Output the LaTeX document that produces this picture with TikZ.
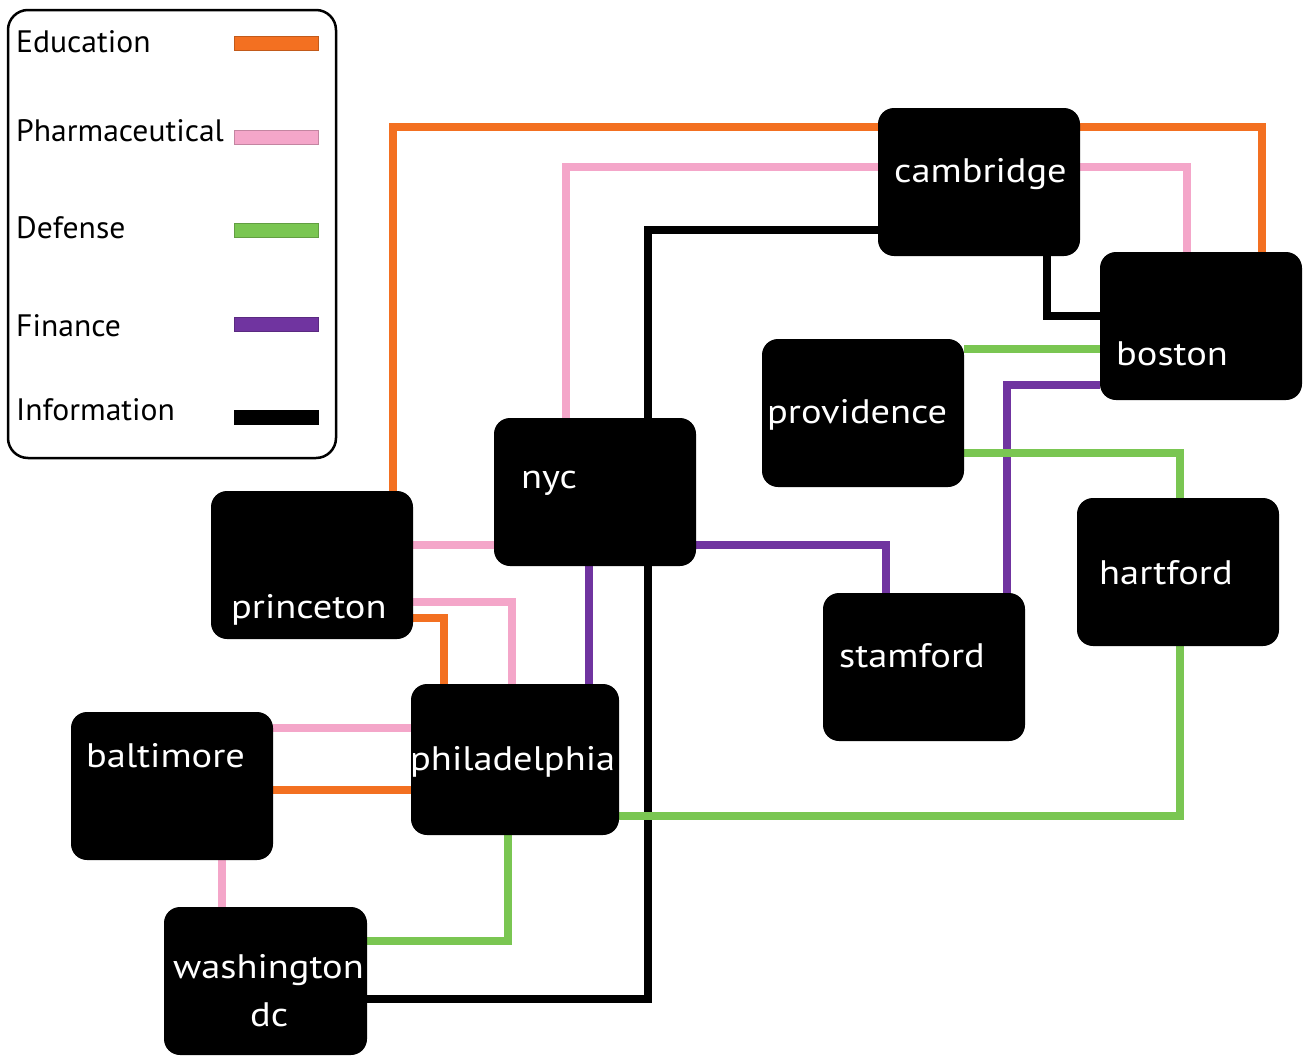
\documentclass[tikz,border=0pt]{standalone}
\usepackage{fontspec}
\setmainfont{PT Sans}
\newfontfamily\cityfont[FakeStretch=1.13]{PT Sans}
\newfontfamily\legfont[FakeStretch=1.02]{PT Sans}
\usetikzlibrary{backgrounds}
\definecolor{edu}{RGB}{243,112,33}
\definecolor{pharm}{RGB}{244,166,201}
\definecolor{def}{RGB}{122,198,82}
\definecolor{fin}{RGB}{112,52,160}
\definecolor{info}{RGB}{0,0,0}
\tikzset{
  city/.style={fill=black, rounded corners=16pt, minimum width=202pt, minimum height=148pt, inner sep=0pt},
  citytext/.style={text=white, inner sep=0pt, anchor=base west, font=\cityfont\fontsize{34}{38}\selectfont},
  legtext/.style={text=black, inner sep=0pt, anchor=base west, font=\legfont\fontsize{31}{35}\selectfont},
  legbar/.style={minimum width=84pt, minimum height=14pt, inner sep=0pt, line width=0.8pt},
  link/.style={line width=8pt},
  eduline/.style={link, draw=edu},
  pharmline/.style={link, draw=pharm},
  defline/.style={link, draw=def},
  finline/.style={link, draw=fin},
  infoline/.style={link, draw=info},
}
\begin{document}
\begin{tikzpicture}[x=1pt,y=-1pt]
\useasboundingbox (0,0) rectangle (1304,1055);
% legend
\draw[line width=2.5pt, rounded corners=20pt] (8,10) rectangle (336,458);
\node[legtext] (lEdu) at (16,52) {Education};
\node[legtext] (lPharm) at (16,141) {Pharmaceutical};
\node[legtext] (lDef) at (16,238) {Defense};
\node[legtext] (lFin) at (16,336) {Finance};
\node[legtext] (lInfo) at (16,420) {Information};
\node[legbar, fill=edu, draw=edu!80!black] (bEdu) at (276,43) {};
\node[legbar, fill=pharm, draw=pharm!80!black] (bPharm) at (276,137) {};
\node[legbar, fill=def, draw=def!80!black] (bDef) at (276,230.5) {};
\node[legbar, fill=fin, draw=fin!80!black] (bFin) at (276,324) {};
\node[legbar, fill=black, draw=black] (bInfo) at (276,417) {};
% cities
\node[city] (cambridge) at (979,182) {};
\node[city] (boston) at (1201,326) {};
\node[city] (providence) at (863,413) {};
\node[city] (nyc) at (595,492) {};
\node[city] (princeton) at (312,565) {};
\node[city] (stamford) at (924,667) {};
\node[city] (hartford) at (1178,572) {};
\node[city, minimum width=208pt, minimum height=151pt] (philadelphia) at (515,759.5) {};
\node[city] (baltimore) at (172,786) {};
\node[city, minimum width=203pt] (washington) at (265.5,981) {};
% labels
\node[citytext] (tCambridge) at (894,182) {cambridge};
\node[citytext] (tBoston) at (1116,365) {boston};
\node[citytext] (tProvidence) at (767,423) {providence};
\node[citytext] (tNyc) at (521,488) {nyc};
\node[citytext] (tPrinceton) at (231,618) {princeton};
\node[citytext] (tStamford) at (839,667) {stamford};
\node[citytext] (tHartford) at (1099,584) {hartford};
\node[citytext] (tPhiladelphia) at (410,770) {philadelphia};
\node[citytext] (tBaltimore) at (86,767) {baltimore};
\node[citytext] (tWashington) at (173,978) {washington};
\node[citytext] (tDc) at (250,1026) {dc};
% connectors
\begin{scope}[on background layer]
% information
\draw[infoline] (cambridge.west |- 0,230) -| (648,600) |- (washington.east |- 0,999);
\draw[infoline] (cambridge.south -| 1047,0) |- (boston.west |- 0,316);
% finance
\draw[finline] (nyc.south -| 589,0) -- (philadelphia.north -| 589,0);
\draw[finline] (nyc.east |- 0,545) -| (stamford.north -| 886,0);
\draw[finline] (boston.west |- 0,385) -| (stamford.north -| 1007,0);
% pharmaceutical
\draw[pharmline] (nyc.north -| 566,0) |- (cambridge.west |- 0,167);
\draw[pharmline] (cambridge.east |- 0,167) -| (boston.north -| 1187,0);
\draw[pharmline] (princeton.east |- 0,545) -- (nyc.west |- 0,545);
\draw[pharmline] (princeton.east |- 0,602) -| (philadelphia.north -| 512,0);
\draw[pharmline] (baltimore.east |- 0,728) -- (philadelphia.west |- 0,728);
\draw[pharmline] (baltimore.south -| 222,0) -- (washington.north -| 222,0);
% education
\draw[eduline] (princeton.north -| 393,0) |- (cambridge.west |- 0,127);
\draw[eduline] (cambridge.east |- 0,127) -| (boston.north -| 1262,0);
\draw[eduline] (princeton.east |- 0,618) -| (philadelphia.north -| 444,0);
\draw[eduline] (baltimore.east |- 0,790) -- (philadelphia.west |- 0,790);
% defense
\draw[defline] (providence.east |- 0,349) -- (boston.west |- 0,349);
\draw[defline] (providence.east |- 0,453) -| (hartford.north -| 1180,0);
\draw[defline] (hartford.south -| 1180,0) |- (philadelphia.east |- 0,816);
\draw[defline] (philadelphia.south -| 508,0) |- (washington.east |- 0,941);
\end{scope}
\end{tikzpicture}
\end{document}
